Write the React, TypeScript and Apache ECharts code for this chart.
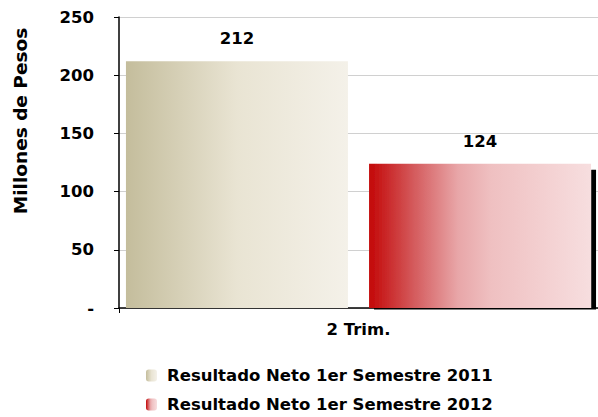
import React, { useEffect, useRef } from "react";
import * as echarts from "echarts";

const categories = ["2 Trim."];
const seriesNames = ["Resultado Neto 1er Semestre 2011", "Resultado Neto 1er Semestre 2012"];
const values2011 = [212];
const values2012 = [124];
const yTicks = [0, 50, 100, 150, 200, 250];
const yAxisTitle = "Millones de Pesos";

const FONT = "'DejaVu Sans', Verdana, sans-serif";

export default function App() {
  const ref = useRef<HTMLDivElement>(null);
  useEffect(() => {
    if (!ref.current) return;
    const chart = echarts.init(ref.current, undefined, { renderer: "svg" });
    const beige = new echarts.graphic.LinearGradient(0, 0, 1, 0, [
      { offset: 0, color: "#c4bd9c" },
      { offset: 0.5, color: "#e9e4d3" },
      { offset: 1, color: "#f4f1e9" },
    ]);
    const red = new echarts.graphic.LinearGradient(0, 0, 1, 0, [
      { offset: 0, color: "#c30707" },
      { offset: 0.2, color: "#d45a5c" },
      { offset: 0.4, color: "#e8a6a8" },
      { offset: 0.55, color: "#efc0c1" },
      { offset: 1, color: "#f7dedf" },
    ]);
    const labelStyle = {
      fontFamily: FONT,
      fontWeight: "bold",
      fontSize: 16.5,
      color: "#000",
    };
    chart.setOption({
      animation: false,
      textStyle: { fontFamily: FONT },
      grid: { left: 119, top: 17, width: 484, height: 291, containLabel: false },
      graphic: [
        {
          type: "text",
          x: 20,
          y: 121,
          rotation: Math.PI / 2,
          style: {
            text: yAxisTitle,
            font: `bold 18.5px ${FONT}`,
            fill: "#000",
            align: "center",
            verticalAlign: "middle",
          },
        },
        {
          type: "rect",
          shape: { x: 372, y: 309.5, width: 240, height: 8 },
          style: { fill: "#fff" },
          z: 100,
        },
      ],
      legend: {
        orient: "vertical",
        left: 146,
        top: 367,
        height: 60,
        padding: 0,
        itemWidth: 11,
        itemHeight: 12,
        itemGap: 12,
        textStyle: { ...labelStyle, padding: [0, 0, 0, 5] },
        data: seriesNames,
      },
      xAxis: {
        type: "category",
        data: categories,
        axisLine: { lineStyle: { color: "#000", width: 1.5 } },
        axisTick: { show: true, length: 5, lineStyle: { color: "#000" } },
        axisLabel: { ...labelStyle, margin: 13 },
      },
      yAxis: {
        type: "value",
        min: yTicks[0],
        max: yTicks[yTicks.length - 1],
        interval: 50,
        axisLine: { show: true, lineStyle: { color: "#000", width: 1.5 } },
        axisTick: { show: true, length: 5, lineStyle: { color: "#000" } },
        splitLine: { show: true, lineStyle: { color: "#d0d0d0", width: 1 } },
        axisLabel: {
          ...labelStyle,
          margin: 25,
          formatter: (v: number) => (v === 0 ? "-" : String(v)),
        },
      },
      series: [
        {
          name: seriesNames[0],
          type: "bar",
          data: values2011,
          barWidth: 222,
          barGap: "9.5%",
          itemStyle: { color: beige },
          label: { show: true, position: "top", distance: 14, ...labelStyle },
        },
        {
          name: seriesNames[1],
          type: "bar",
          data: values2012,
          barWidth: 222,
          itemStyle: {
            color: red,
            shadowColor: "#000",
            shadowOffsetX: 5,
            shadowOffsetY: 6,
            shadowBlur: 0,
          },
          label: { show: true, position: "top", distance: 14, ...labelStyle },
        },
      ],
    });
    return () => chart.dispose();
  }, []);
  return (
    <div
      ref={ref}
      style={{ position: "fixed", left: 0, top: 0, width: 598, height: 417, background: "#fff" }}
    />
  );
}
